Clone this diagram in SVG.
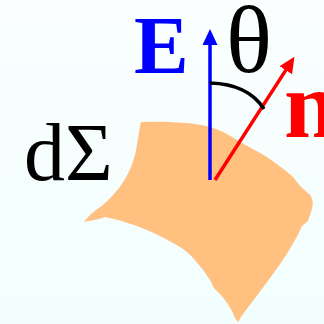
<svg xmlns="http://www.w3.org/2000/svg" width="324" height="324" viewBox="0 0 324 324">
<defs>
<linearGradient id="bg" x1="0" y1="0" x2="0" y2="1">
<stop offset="0" stop-color="#FAFEFE"/>
<stop offset="1" stop-color="#F2FEFE"/>
</linearGradient>
<marker id="ab" markerUnits="userSpaceOnUse" markerWidth="16" markerHeight="16" refX="1" refY="7.5" orient="auto" viewBox="0 0 16 15">
<path d="M0,0 L16,7.5 L0,15 Z" fill="#0000FF"/>
</marker>
<marker id="ar" markerUnits="userSpaceOnUse" markerWidth="16" markerHeight="16" refX="1" refY="7.5" orient="auto" viewBox="0 0 16 15">
<path d="M0,0 L16,7.5 L0,15 Z" fill="#FF0000"/>
</marker>
<style>
.t{font-family:"Liberation Serif","Times New Roman",serif;}
.b{font-weight:bold;}
</style>
</defs>
<rect width="324" height="324" fill="url(#bg)"/>
<g id="surface">
<path d="M141,122 C170,121 200,123 213,128 C225,132 230,136 240,142 L262,154 C275,162 285,170 293,177 L300,186 L310,195 C314,200 313,206 311,212 L308,221 L302,226 C296,240 285,258 270,278 C258,295 245,310 238,322 L235,318 C232,310 228,303 220,294 L214,288 L210,280 C200,265 190,253 180,247 C160,235 140,226 118,220 L105,217 L99,219 L84,222 C90,214 96,210 104,204 C118,192 130,175 135,155 C138,142 139,130 141,122 Z" fill="#FFC080"/>
</g>
<g id="connectors">
<line x1="210" y1="180" x2="210" y2="44" stroke="#0000FF" stroke-width="3.5" marker-end="url(#ab)"/>
<line x1="215" y1="180" x2="286.3" y2="69.4" stroke="#FF0000" stroke-width="3.5" marker-end="url(#ar)"/>
<path d="M210,83 Q248,84 264,109" fill="none" stroke="#000" stroke-width="3.5"/>
</g>
<g id="label-E"><text class="t b" x="134" y="73" font-size="82" fill="#0000FF">E</text></g>
<g id="label-theta"><text class="t" x="226" y="72" font-size="96" fill="#000">θ</text></g>
<g id="label-n"><text class="t b" x="284" y="137" font-size="96" fill="#FF0000">n</text></g>
<g id="label-dSigma"><text class="t" x="24" y="180" font-size="82" fill="#000">dΣ</text></g>
</svg>
